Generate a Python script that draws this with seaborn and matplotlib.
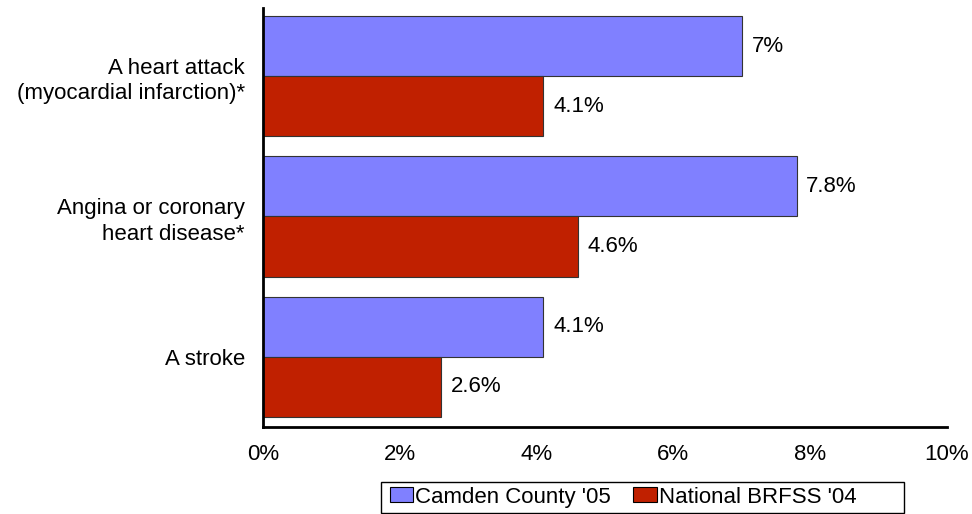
import pandas as pd
import matplotlib
matplotlib.use("Agg")
import matplotlib.pyplot as plt
from matplotlib.patches import Rectangle
import seaborn as sns

# Data
conditions = ["A heart attack\n(myocardial infarction)*",
              "Angina or coronary\nheart disease*",
              "A stroke"]
camden = [7.0, 7.8, 4.1]
national = [4.1, 4.6, 2.6]
series = ["Camden County '05", "National BRFSS '04"]
colors = ["#8080FF", "#C02000"]
xticks = [0, 2, 4, 6, 8, 10]

df = pd.DataFrame({
    "Condition": conditions * 2,
    "Percent": camden + national,
    "Source": [series[0]] * 3 + [series[1]] * 3,
})

sns.set_style("white")
plt.rcParams["font.family"] = ["Liberation Sans", "DejaVu Sans"]
plt.rcParams["text.color"] = "black"
plt.rcParams["xtick.color"] = "black"
plt.rcParams["ytick.color"] = "black"

FS = 16

fig = plt.figure(figsize=(9.72, 5.14), dpi=100)
ax = fig.add_axes([0.2706, 0.1693, 0.7037, 0.8151])

sns.barplot(data=df, y="Condition", x="Percent", hue="Source",
            palette=colors, saturation=1, orient="h", width=0.856,
            edgecolor="#333333", linewidth=0.8, ax=ax, legend=True)

# value labels at bar ends
for container in ax.containers:
    labels = [f"{v:g}%" for v in container.datavalues]
    ax.bar_label(container, labels=labels, padding=7, fontsize=FS)

ax.set_xlim(0, 10)
ax.set_ylim(2.5, -0.485)
ax.set_xticks(xticks)
ax.set_xticklabels([f"{t}%" for t in xticks], fontsize=FS)
ax.set_yticks(range(len(conditions)))
ax.set_yticklabels(conditions, fontsize=FS, multialignment="right",
                   linespacing=1.3)
ax.tick_params(axis="both", length=0)
ax.tick_params(axis="x", pad=12)
ax.tick_params(axis="y", pad=13)
ax.set_xlabel("")
ax.set_ylabel("")

for side in ["top", "right"]:
    ax.spines[side].set_visible(False)
for side in ["left", "bottom"]:
    ax.spines[side].set_color("black")
    ax.spines[side].set_linewidth(2)

# legend box is wider on the right, like the original
leg = ax.legend(loc="center left", bbox_to_anchor=(0.401, 0.033),
                bbox_transform=fig.transFigure, ncol=2, frameon=False,
                fontsize=FS, handlelength=1.05, handleheight=0.65,
                handletextpad=0.1, columnspacing=1.0,
                borderpad=0, borderaxespad=0)
for h in leg.legend_handles:
    h.set_edgecolor("black")
fig.patches.append(Rectangle((0.392, 0.002), 0.538, 0.060,
                             transform=fig.transFigure, fill=False,
                             edgecolor="black", linewidth=1))

fig.savefig("out.png", dpi=100)
